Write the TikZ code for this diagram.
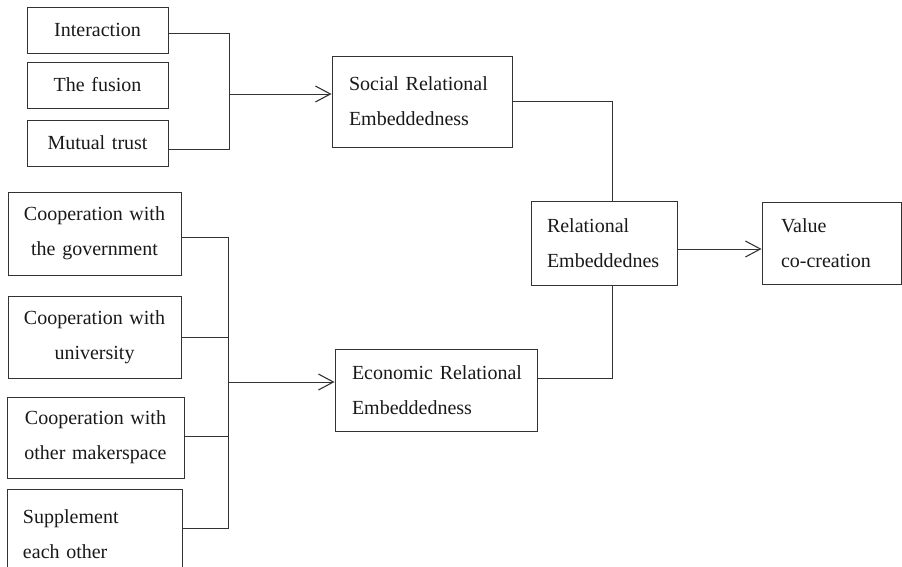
\documentclass[tikz,border=0pt]{standalone}
\usepackage{fontspec}
\setmainfont{Liberation Serif}
\usetikzlibrary{arrows.meta}
\newcommand\boxfont{\fontsize{20pt}{35pt}\selectfont}
\begin{document}
\begin{tikzpicture}[x=1pt,y=-1pt,
  cbox/.style={draw=black!80, line width=0.9pt, font=\boxfont, align=center, inner xsep=0pt, inner ysep=0pt, text=black!90},
  lbox/.style={draw=black!80, line width=0.9pt, font=\boxfont, align=left, inner xsep=17pt, inner ysep=0pt, text=black!90},
  arr/.style={-{Straight Barb[length=15pt,width=16pt,line width=1.1pt]}},
  line/.style={draw=black!80, line width=0.9pt}]
\useasboundingbox (0,0) rectangle (902,567);
\begin{scope}
\clip (0,0) rectangle (902,567);
% left top column
\node[cbox, minimum width=141pt, minimum height=46pt, text width=141pt] (int) at (97.5,30) {Interaction};
\node[cbox, minimum width=141pt, minimum height=46pt, text width=141pt] (fus) at (97.5,85) {The fusion};
\node[cbox, minimum width=141pt, minimum height=46pt, text width=141pt] (mt) at (97.5,143) {Mutual trust};
% left bottom column
\node[cbox, minimum width=173pt, minimum height=83pt, text width=173pt] (gov) at (94.5,233.5) {\mbox{Cooperation with}\\\mbox{the government}};
\node[cbox, minimum width=173pt, minimum height=82pt, text width=173pt] (uni) at (94.5,337) {\mbox{Cooperation with}\\university};
\node[cbox, minimum width=177pt, minimum height=81pt, text width=177pt] (mak) at (95.5,437.5) {\mbox{Cooperation with}\\\mbox{other makerspace}};
\node[lbox, inner xsep=16pt, minimum width=175pt, minimum height=91pt, text width=143pt] (sup) at (94.5,534.5) {Supplement\\each other};
% middle
\node[lbox, minimum width=180pt, minimum height=91pt, text width=146pt] (soc) at (422,101.5) {\mbox{Social Relational}\\Embeddedness};
\node[lbox, minimum width=202pt, minimum height=82pt, text width=168pt] (eco) at (436,390) {\mbox{Economic Relational}\\Embeddedness};
\node[lbox, inner xsep=16pt, minimum width=146pt, minimum height=84pt, text width=114pt] (rel) at (604,243) {Relational\\Embeddednes};
\node[lbox, inner xsep=19pt, minimum width=139pt, minimum height=82pt, text width=101pt] (val) at (831.5,243) {Value\\co-creation};
% junction coordinates
\coordinate (j1t) at (229,33);
\coordinate (j1b) at (229,149);
\coordinate (j1) at (229,94);
\coordinate (s1) at (612,101);
\coordinate (e1) at (612,378);
\coordinate (v1) at (700,249);
\coordinate (jt) at (228,237);
\coordinate (ju) at (228,337);
\coordinate (jm) at (228,436);
\coordinate (jb) at (228,528);
\coordinate (ja) at (228,382);
% connectors
\draw[line] (int.east|-j1t) -- (j1t) -- (j1b) -- (mt.east|-j1b);
\draw[line,arr] (j1) -- (soc.west|-j1);
\draw[line] (soc.east|-s1) -- (s1) -- (s1|-rel.north);
\draw[line] (s1|-rel.south) -- (e1) -- (eco.east|-e1);
\draw[line,arr] (rel.east|-v1) -- (val.west|-v1);
\draw[line] (gov.east|-jt) -- (jt) -- (jb) -- (sup.east|-jb);
\draw[line] (uni.east|-ju) -- (ju);
\draw[line] (mak.east|-jm) -- (jm);
\draw[line,arr] (ja) -- (eco.west|-ja);
\end{scope}
\end{tikzpicture}
\end{document}
